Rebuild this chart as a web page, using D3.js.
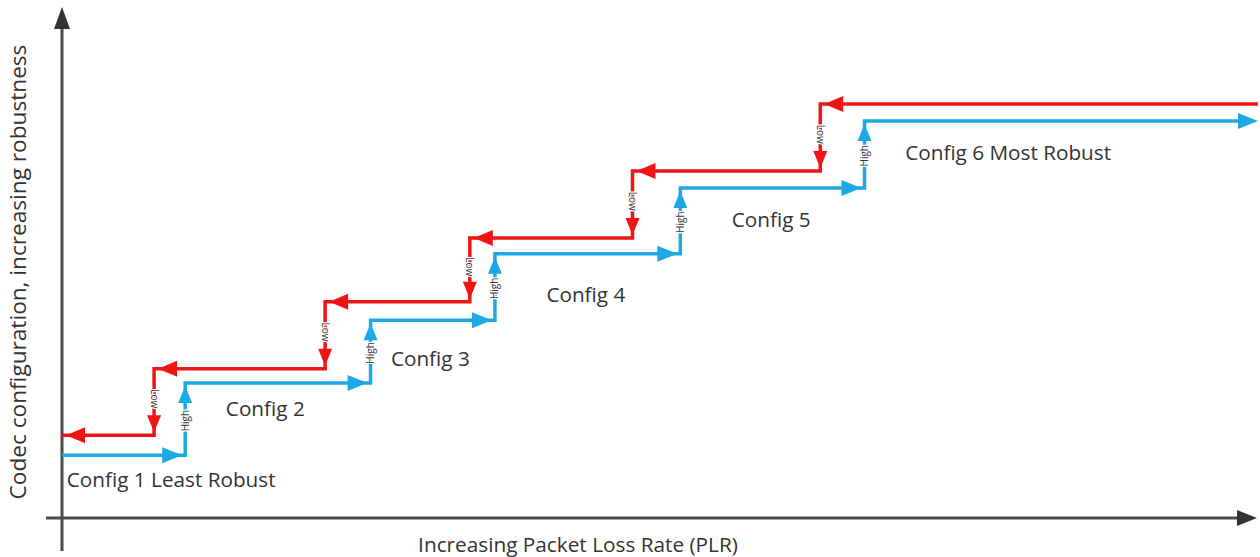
<!DOCTYPE html>
<html>
<head>
<meta charset="utf-8">
<script src="https://cdn.jsdelivr.net/npm/d3@7"></script>
<style>
  html, body { margin: 0; padding: 0; background: #fff; }
  svg { display: block; }
</style>
</head>
<body>
<div id="chart"></div>
<script>
// ---- data (axis units: PLR 0..100 along x, robustness 0..100 along y) ----
const configs = ["Config 1 Least Robust", "Config 2", "Config 3", "Config 4", "Config 5", "Config 6 Most Robust"];
// blue ("High") path: level of each config when PLR rises
const upLevels = [12.3, 26.4, 38.7, 51.7, 64.6, 77.7];
// PLR where the switch up happens (High thresholds)
const upThresholds = [10.3, 25.8, 36.2, 51.7, 67.1];
// red ("Low") path: level of each config when PLR falls
const downLevels = [16.2, 29.2, 42.3, 54.8, 67.9, 81.0];
// PLR where the switch down happens (Low thresholds)
const downThresholds = [7.7, 22.0, 34.1, 47.7, 63.4];
// config label anchor points [PLR, robustness]
const labelX = [0.4, 13.7, 27.5, 40.5, 56.0, 70.5];
const labelY = [6.0, 20.0, 29.7, 42.2, 57.0, 70.1];
const upLabel = "High";
const downLabel = "Low";
const xTitle = "Increasing Packet Loss Rate (PLR)";
const yTitle = "Codec configuration, increasing robustness";

const W = 1260, H = 557;
const svg = d3.select("#chart").append("svg").attr("width", W).attr("height", H);

const x = d3.scaleLinear().domain([0, 100]).range([62, 1258]);
const y = d3.scaleLinear().domain([0, 100]).range([518, 7]);

const axisColor = "#4a4a4a";
const blue = "#1ea8e6";
const red = "#f01414";
const font = "'Open Sans', Lato, sans-serif";

// ---- axes ----
svg.append("line").attr("x1", 46).attr("x2", x(100) - 14).attr("y1", y(0)).attr("y2", y(0))
  .attr("stroke", axisColor).attr("stroke-width", 3);
svg.append("line").attr("x1", x(0)).attr("x2", x(0)).attr("y1", 551).attr("y2", y(100) + 14)
  .attr("stroke", axisColor).attr("stroke-width", 3);
// axis arrowheads
svg.append("path").attr("d", `M${x(100) - 1},${y(0)} L${x(100) - 21},${y(0) - 8} L${x(100) - 21},${y(0) + 8} Z`).attr("fill", "#333");
svg.append("path").attr("d", `M${x(0)},${y(100)} L${x(0) - 8},${y(100) + 22} L${x(0) + 8},${y(100) + 22} Z`).attr("fill", "#333");

function fitText(sel, target) {
  const len = sel.node().getComputedTextLength();
  const fs = parseFloat(sel.attr("font-size"));
  sel.attr("font-size", fs * target / len);
  return fs * target / len;
}

// axis titles
const xt = svg.append("text").attr("x", 578).attr("y", 552).attr("text-anchor", "middle")
  .attr("font-family", font).attr("font-size", 18).attr("fill", "#333").text(xTitle);
fitText(xt, 320);
const yt = svg.append("text").attr("transform", "translate(26,272) rotate(-90)").attr("text-anchor", "middle")
  .attr("font-family", font).attr("font-size", 18).attr("fill", "#333").text(yTitle);
fitText(yt, 455);

// ---- staircase paths ----
const sw = 3.5;
const bluePts = [[0, upLevels[0]]];
upThresholds.forEach((t, i) => { bluePts.push([t, upLevels[i]]); bluePts.push([t, upLevels[i + 1]]); });
bluePts.push([99.4, upLevels[upLevels.length - 1]]);
const redPts = [[0, downLevels[0]]];
downThresholds.forEach((t, i) => { redPts.push([t, downLevels[i]]); redPts.push([t, downLevels[i + 1]]); });
redPts.push([100, downLevels[downLevels.length - 1]]);

const line = d3.line().x(d => x(d[0])).y(d => y(d[1])).curve(d3.curveLinear);
svg.append("path").attr("d", line(redPts)).attr("fill", "none").attr("stroke", red)
  .attr("stroke-width", sw).attr("stroke-linejoin", "miter").attr("stroke-linecap", "butt");
svg.append("path").attr("d", line(bluePts)).attr("fill", "none").attr("stroke", blue)
  .attr("stroke-width", sw).attr("stroke-linejoin", "miter").attr("stroke-linecap", "butt");

function tri(tx, ty, dir, len, hw, color) {
  let p;
  if (dir === "right") p = `M${tx},${ty} L${tx - len},${ty - hw} L${tx - len},${ty + hw} Z`;
  if (dir === "left") p = `M${tx},${ty} L${tx + len},${ty - hw} L${tx + len},${ty + hw} Z`;
  if (dir === "up") p = `M${tx},${ty} L${tx - hw},${ty + len} L${tx + hw},${ty + len} Z`;
  if (dir === "down") p = `M${tx},${ty} L${tx - hw},${ty - len} L${tx + hw},${ty - len} Z`;
  svg.append("path").attr("d", p).attr("fill", color);
}

// blue arrowheads
upThresholds.forEach((t, i) => {
  tri(x(t) - 3, y(upLevels[i]), "right", 20, 8, blue);
  tri(x(t), y(upLevels[i + 1]) + 3, "up", 17, 7, blue);
});
tri(x(100), y(upLevels[5]), "right", 20, 8, blue);
// red arrowheads
tri(x(0) + 4, y(downLevels[0]), "left", 19, 8, red);
downThresholds.forEach((t, i) => {
  tri(x(t) + 4, y(downLevels[i + 1]), "left", 19, 8, red);
  tri(x(t), y(downLevels[i]) - 3, "down", 17, 7, red);
});

// ---- High / Low switch labels ----
upThresholds.forEach((t, i) => {
  const yc = y(upLevels[i + 1]) + 0.52 * (y(upLevels[i]) - y(upLevels[i + 1]));
  svg.append("text").attr("transform", `translate(${x(t) + 3.5},${yc}) rotate(-90)`)
    .attr("text-anchor", "middle").attr("font-family", font).attr("font-size", 10)
    .attr("fill", "#333").attr("stroke", "#fff").attr("stroke-width", 2.5).attr("paint-order", "stroke")
    .text(upLabel);
});
downThresholds.forEach((t, i) => {
  const yc = y(downLevels[i + 1]) + 0.45 * (y(downLevels[i]) - y(downLevels[i + 1]));
  svg.append("text").attr("transform", `translate(${x(t) - 3.5},${yc}) rotate(90)`)
    .attr("text-anchor", "middle").attr("font-family", font).attr("font-size", 10)
    .attr("fill", "#333").attr("stroke", "#fff").attr("stroke-width", 2.5).attr("paint-order", "stroke")
    .text(downLabel);
});

// ---- config labels ----
const labels = configs.map((c, i) => svg.append("text").attr("x", x(labelX[i])).attr("y", y(labelY[i]))
  .attr("font-family", font).attr("font-size", 18).attr("fill", "#333").text(c));
const fs = fitText(labels[0], 209);
labels.forEach(l => l.attr("font-size", fs));
</script>
</body>
</html>
